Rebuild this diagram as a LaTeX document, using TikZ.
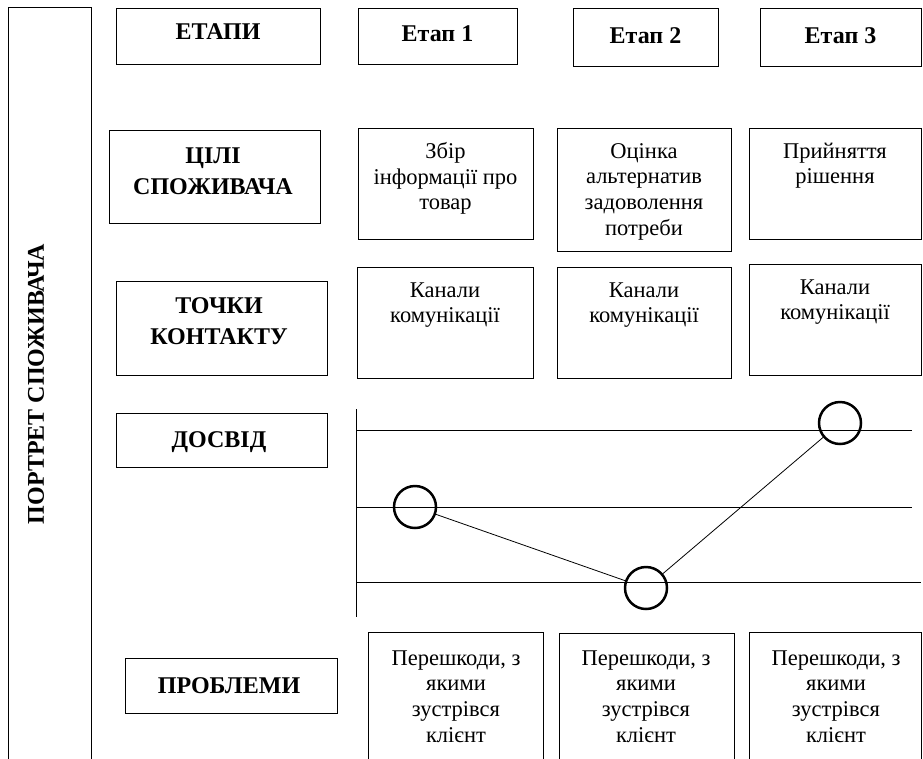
\documentclass[tikz,border=0pt]{standalone}
\usepackage{fontspec}
\setmainfont{Liberation Serif}
\newcommand\rts{\rule{0pt}{16pt}}
\newcommand\bts{\rule{0pt}{17pt}}
\tikzset{
  bx/.style={draw, line width=0.8pt, inner sep=0pt, anchor=north west},
  rt/.style={font=\fontsize{22.5}{25.7}\selectfont, align=center, inner sep=0pt, anchor=north},
  bt/.style={font=\fontsize{24}{31}\selectfont\bfseries, align=center, inner sep=0pt, anchor=north},
  ring/.style={circle, draw, line width=2.5pt, minimum size=42pt, inner sep=0pt},
  ln/.style={line width=0.8pt},
}
\begin{document}
\begin{tikzpicture}[x=1pt,y=-1pt]
\useasboundingbox (0,0) rectangle (923,758);
\clip (0,0) rectangle (923,758);
\fill[white] (0,0) rectangle (923,758);

% tall left box
\node[bx, minimum width=83pt, minimum height=770pt] (port) at (8,7) {};
\node[font=\fontsize{24}{31}\selectfont\bfseries, inner sep=0pt, rotate=90] (portt) at (36,384) {ПОРТРЕТ СПОЖИВАЧА};

% row 1
\node[bx, minimum width=204pt, minimum height=56pt] (e0) at (116,8) {};
\node[bt] (e0t) at (218,22) {\bts ЕТАПИ};
\node[bx, minimum width=159pt, minimum height=56pt] (e1) at (358,8) {};
\node[bt] (e1t) at (437.5,24) {\bts Етап 1};
\node[bx, minimum width=145pt, minimum height=58pt] (e2) at (573,8) {};
\node[bt] (e2t) at (645.5,26) {\bts Етап 2};
\node[bx, minimum width=161pt, minimum height=58pt] (e3) at (760,8) {};
\node[bt] (e3t) at (840.5,26) {\bts Етап 3};

% row 2
\node[bx, minimum width=211pt, minimum height=93pt] (c0) at (109,130) {};
\node[bt] (c0t) at (213,146) {\bts ЦІЛІ\\СПОЖИВАЧА};
\node[bx, minimum width=175pt, minimum height=111pt] (g1) at (358,128) {};
\node[rt] (g1t) at (445.5,142) {\rts Збір\\інформації про\\товар};
\node[bx, minimum width=174pt, minimum height=123pt] (g2) at (557,128) {};
\node[rt] (g2t) at (644,142) {\rts Оцінка\\альтернатив\\задоволення\\потреби};
\node[bx, minimum width=172pt, minimum height=111pt] (g3) at (749,128) {};
\node[rt] (g3t) at (835,142) {\rts Прийняття\\рішення};

% row 3
\node[bx, minimum width=211pt, minimum height=94pt] (t0) at (116,281) {};
\node[bt] (t0t) at (219,296) {\bts ТОЧКИ\\КОНТАКТУ};
\node[bx, minimum width=176pt, minimum height=111pt] (k1) at (357,267) {};
\node[rt] (k1t) at (445,281) {\rts Канали\\комунікації};
\node[bx, minimum width=174pt, minimum height=111pt] (k2) at (557,267) {};
\node[rt] (k2t) at (644,281) {\rts Канали\\комунікації};
\node[bx, minimum width=172pt, minimum height=111pt] (k3) at (749,264) {};
\node[rt] (k3t) at (835,278) {\rts Канали\\комунікації};

% row 4
\node[bx, minimum width=211pt, minimum height=54pt] (d0) at (116,413) {};
\node[bt] (d0t) at (219,430) {\bts ДОСВІД};

% chart
\coordinate (axt) at (356,409);
\coordinate (axb) at (356,617);
\coordinate (h1a) at (356,430); \coordinate (h1b) at (912,430);
\coordinate (h2a) at (356,507); \coordinate (h2b) at (912,507);
\coordinate (h3a) at (356,582); \coordinate (h3b) at (921,582);
\draw[ln] (axt) -- (axb);
\draw[ln] (h1a) -- (h1b);
\draw[ln] (h2a) -- (h2b);
\draw[ln] (h3a) -- (h3b);
\node[ring] (r1) at (415,507) {};
\node[ring] (r2) at (646,588) {};
\node[ring] (r3) at (840,423) {};
\draw[ln] (r1) -- (r2);
\draw[ln] (r2) -- (r3);

% row 5
\node[bx, minimum width=212pt, minimum height=55pt] (p0) at (125,658) {};
\node[bt] (p0t) at (229,676) {\bts ПРОБЛЕМИ};
\node[bx, minimum width=175pt, minimum height=140pt] (pb1) at (368,632) {};
\node[rt] (pb1t) at (456,649) {\rts Перешкоди, з\\якими\\зустрівся\\клієнт};
\node[bx, minimum width=175pt, minimum height=140pt] (pb2) at (559,633) {};
\node[rt] (pb2t) at (646,649) {\rts Перешкоди, з\\якими\\зустрівся\\клієнт};
\node[bx, minimum width=172pt, minimum height=140pt] (pb3) at (749,632) {};
\node[rt] (pb3t) at (836,649) {\rts Перешкоди, з\\якими\\зустрівся\\клієнт};
\end{tikzpicture}
\end{document}
